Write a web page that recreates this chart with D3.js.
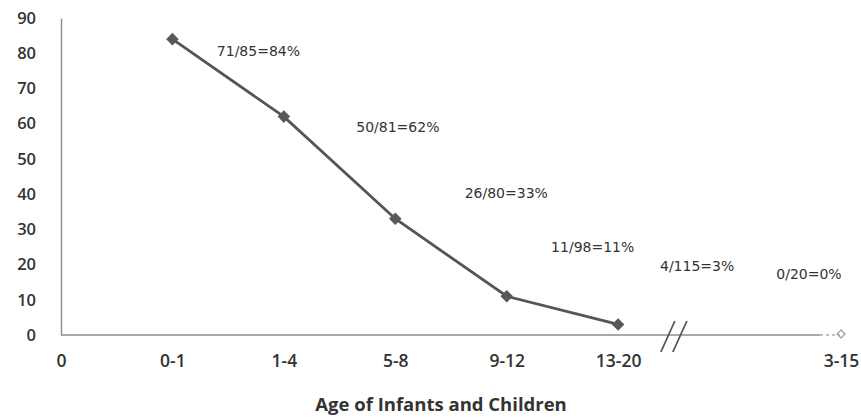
<!DOCTYPE html>
<html><head><meta charset="utf-8">
<script src="https://cdn.jsdelivr.net/npm/d3@7"></script>
<style>body{margin:0;background:#fff}svg{display:block}</style>
</head><body>
<svg id="chart" width="861" height="420"></svg>
<script>
const categories = ["0","0-1","1-4","5-8","9-12","13-20","3-15"];
const lineCats = ["0-1","1-4","5-8","9-12","13-20"];
const values = [84, 62, 33, 11, 3];
const endCat = "3-15";
const endValue = 0;
const labelCats = ["0-1","1-4","5-8","9-12","13-20","3-15"];
const labels = ["71/85=84%","50/81=62%","26/80=33%","11/98=11%","4/115=3%","0/20=0%"];
const labelValues = [79.2, 57.5, 38.8, 23.5, 18.1, 15.8];
const yTicks = [0,10,20,30,40,50,60,70,80,90];
const xTitle = "Age of Infants and Children";

(function(){
const svg = d3.select("#chart");
const mLeft = 61, mBottom = 335, mTop = 18;
const domainSlots = ["0","0-1","1-4","5-8","9-12","13-20","__gap__","3-15"];
const x = d3.scalePoint().domain(domainSlots).range([mLeft, 841]);
const y = d3.scaleLinear().domain([0, 90]).range([mBottom, mTop]);
const font = "'Open Sans', 'DejaVu Sans', sans-serif";
const lblFont = "'DejaVu Sans', Verdana, sans-serif";

// y axis
const yAxis = d3.axisLeft(y).tickValues(yTicks).tickSize(0).tickPadding(25);
const gy = svg.append("g").attr("transform", `translate(${mLeft},0)`).call(yAxis);
gy.select(".domain").attr("stroke", "#8c8c8c").attr("stroke-width", 1.4);
gy.selectAll("text").attr("font-family", font).attr("font-size", 16.5)
  .attr("font-weight", 600).attr("fill", "#333");

// x axis
const xAxis = d3.axisBottom(x).tickValues(categories).tickSize(0).tickPadding(20);
const gx = svg.append("g").attr("transform", `translate(0,${mBottom})`).call(xAxis);
gx.select(".domain").remove();
gx.selectAll("text").attr("font-family", font).attr("font-size", 17.5)
  .attr("font-weight", 600).attr("fill", "#333");
gx.append("line").attr("x1", mLeft).attr("x2", 820).attr("y1", 0).attr("y2", 0)
  .attr("stroke", "#8c8c8c").attr("stroke-width", 1.4);
gx.append("line").attr("x1", 820).attr("x2", 840).attr("y1", 0).attr("y2", 0)
  .attr("stroke", "#aaaaaa").attr("stroke-width", 1.4).attr("stroke-dasharray", "3,3");

// axis break
const bx = (x("13-20") + x("__gap__")) / 2;
[-6, 6].forEach(dx => {
  svg.append("line")
    .attr("x1", bx + dx - 7).attr("y1", mBottom + 17)
    .attr("x2", bx + dx + 7).attr("y2", mBottom - 14)
    .attr("stroke", "#555").attr("stroke-width", 1.8);
});

// line
const pts = lineCats.map((c, i) => [x(c), y(values[i])]);
svg.append("path").attr("d", d3.line()(pts))
  .attr("fill", "none").attr("stroke", "#555555").attr("stroke-width", 2.8);
svg.selectAll(".mk").data(pts).join("path")
  .attr("transform", d => `translate(${d[0]},${d[1]})`)
  .attr("d", d3.symbol(d3.symbolDiamond2, 100)())
  .attr("fill", "#595959");
// end point marker (faint)
svg.append("path")
  .attr("transform", `translate(${x(endCat)},${y(endValue) - 1})`)
  .attr("d", d3.symbol(d3.symbolDiamond2, 40)())
  .attr("fill", "none").attr("stroke", "#999").attr("stroke-width", 1.2);

// labels
svg.selectAll(".lbl").data(labels).join("text")
  .attr("x", (d, i) => x(labelCats[i]) + [86, 114, 111, 86, 79, -32][i])
  .attr("y", (d, i) => y(labelValues[i]))
  .attr("text-anchor", "middle")
  .attr("font-family", lblFont).attr("font-size", 14).attr("fill", "#333")
  .text(d => d);

// x title
svg.append("text").attr("x", 441).attr("y", 411).attr("text-anchor", "middle")
  .attr("font-family", font).attr("font-size", 18.5).attr("font-weight", "bold")
  .attr("fill", "#333").text(xTitle);
})();
</script>
</body></html>
